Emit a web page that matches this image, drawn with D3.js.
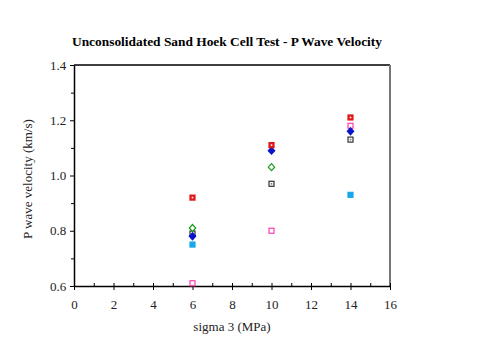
<!DOCTYPE html>
<html><head><meta charset="utf-8">
<script src="https://cdn.jsdelivr.net/npm/d3@7"></script>
<style>body{margin:0;background:#fff}svg{display:block}text{font-family:"Liberation Serif","Times New Roman",Times,serif}</style>
</head><body>
<svg id="c" width="480" height="360"></svg>
<script>
const title = "Unconsolidated Sand Hoek Cell Test - P Wave Velocity";
const xLabel = "sigma 3 (MPa)";
const yLabel = "P wave velocity (km/s)";
const xTicks = [0,2,4,6,8,10,12,14,16];
const yTicks = [0.6,0.8,1.0,1.2,1.4];
const redX = [6,10,14],   redY = [0.92,1.11,1.21];
const blueX = [6,10,14],  blueY = [0.78,1.09,1.16];
const greenX = [6,10],    greenY = [0.81,1.03];
const blackX = [6,10,14], blackY = [0.79,0.97,1.13];
const cyanX = [6,14],     cyanY = [0.75,0.93];
const pinkX = [6,10,14],  pinkY = [0.61,0.80,1.18];

const svg = d3.select("#c");
const L=74,R=390,T=65,B=286;
const x = d3.scaleLinear().domain([0,16]).range([L,R]);
const y = d3.scaleLinear().domain([0.6,1.4]).range([B,T]);
const font = '"Liberation Serif","Times New Roman",Times,serif';

svg.append("text").attr("x",227).attr("y",46).attr("text-anchor","middle")
  .style("font-family",font).attr("font-weight","bold").attr("font-size",13.4).text(title);

// frame
svg.append("line").attr("x1",L).attr("x2",R).attr("y1",T).attr("y2",T).attr("stroke","#000").attr("stroke-width",1.5);
svg.append("line").attr("x1",R).attr("x2",R).attr("y1",T).attr("y2",B).attr("stroke","#777").attr("stroke-width",2);

// x axis
const xa = svg.append("g").attr("transform",`translate(0,${B})`)
  .call(d3.axisBottom(x).tickValues(xTicks).tickFormat(d3.format("d")).tickSize(4).tickSizeOuter(0));
xa.selectAll(".tick line").attr("y1",-3);
const xm = svg.append("g").attr("transform",`translate(0,${B})`)
  .call(d3.axisBottom(x).tickValues(d3.range(1,16,2)).tickFormat("").tickSize(-3).tickSizeOuter(0));
xm.select(".domain").remove();
// y axis
const ya = svg.append("g").attr("transform",`translate(${L},0)`)
  .call(d3.axisLeft(y).tickValues(yTicks).tickFormat(d3.format(".1f")).tickSize(4).tickSizeOuter(0));
const ym = svg.append("g").attr("transform",`translate(${L},0)`)
  .call(d3.axisLeft(y).tickValues([0.7,0.9,1.1,1.3]).tickFormat("").tickSize(3).tickSizeOuter(0));
ym.select(".domain").remove();
[xa,ya].forEach(g=>{
  g.attr("font-family",font).style("font-family",font);
  g.select(".domain").attr("stroke","#000").attr("stroke-width",1.5);
  g.selectAll("text").attr("font-family",font).style("font-family",font).attr("font-size",13).attr("fill","#222");
});
xa.selectAll("text").attr("dy","1.2em");
ya.selectAll("text").attr("dx","-0.05em");

svg.append("text").attr("x",232).attr("y",331).attr("text-anchor","middle")
  .style("font-family",font).attr("font-size",13).attr("fill","#222").text(xLabel);
svg.append("text").attr("transform","translate(32,179) rotate(-90)").attr("text-anchor","middle")
  .style("font-family",font).attr("font-size",13).attr("fill","#222").text(yLabel);

function sq(xs,ys,stroke,fill,inner){
  const g = svg.append("g");
  xs.forEach((v,i)=>{
    g.append("rect").attr("x",x(v)-2.5).attr("y",y(ys[i])-2.5).attr("width",5).attr("height",5)
      .attr("fill",fill).attr("stroke",stroke).attr("stroke-width",1.2);
    if(inner) g.append("rect").attr("x",x(v)-0.8).attr("y",y(ys[i])-0.8).attr("width",1.6).attr("height",1.6).attr("fill",inner);
  });
}
function dia(xs,ys,stroke,fill){
  const g = svg.append("g");
  xs.forEach((v,i)=>{
    g.append("path").attr("transform",`translate(${x(v)},${y(ys[i])})`)
      .attr("d","M0,-3.5L3.2,0L0,3.5L-3.2,0Z").attr("fill",fill).attr("stroke",stroke).attr("stroke-width",1.2);
  });
}
sq(pinkX,pinkY,"#ff3fae","#fff");
sq(cyanX,cyanY,"#16a8e8","#16a8e8");
sq(blackX,blackY,"#333","#fff","#777");
dia(greenX,greenY,"#1a9a1a","#fff");
dia(blueX,blueY,"#0a14c8","#0a14c8");
sq(redX,redY,"#e01818","#e01818","#fff");
</script>
</body></html>
